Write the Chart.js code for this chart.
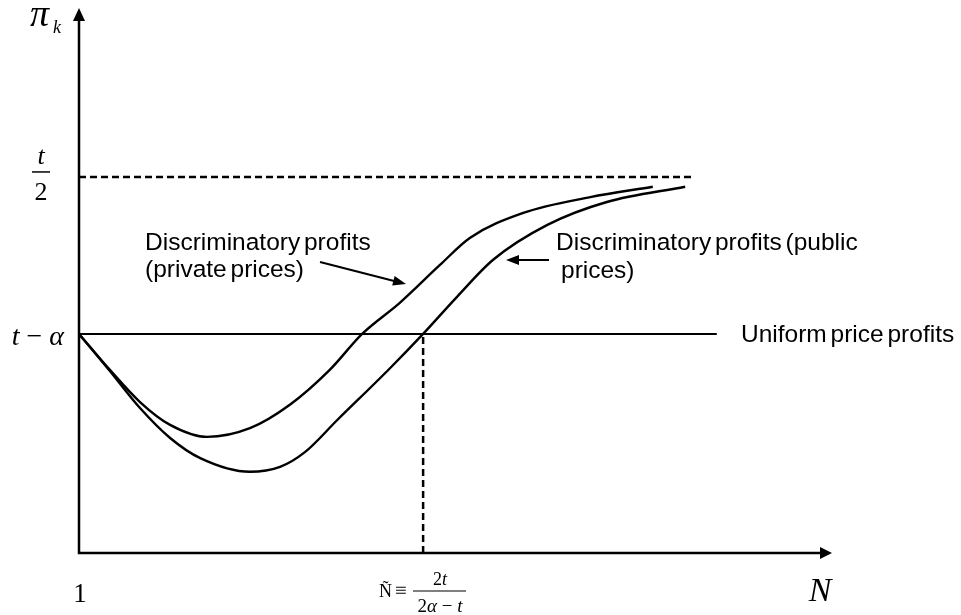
<!DOCTYPE html>
<html>
<head>
<meta charset="utf-8">
<script src="https://cdn.jsdelivr.net/npm/chart.js@4/dist/chart.umd.min.js"></script>
<style>
  html, body { margin: 0; padding: 0; background: #fff; }
  #wrap { width: 961px; height: 615px; }
</style>
</head>
<body>
<div id="wrap"><canvas id="c" width="961" height="615"></canvas></div>
<script>
// values, in chart units (x: 0..10, y: 0..10)
const privateN = [0, 0.41, 0.81, 1.21, 1.70, 2.27, 2.80, 3.33, 3.76, 4.26, 4.79, 5.19, 5.90, 6.79, 7.62];
const privateProfit = [4.02, 3.36, 2.77, 2.35, 2.13, 2.29, 2.72, 3.36, 4.02, 4.59, 5.28, 5.78, 6.24, 6.53, 6.72];
const publicN = [0, 0.41, 0.81, 1.21, 1.61, 2.27, 2.67, 3.00, 3.43, 4.13, 4.57, 5.02, 5.50, 6.22, 7.01, 8.05];
const publicProfit = [4.02, 3.34, 2.66, 2.11, 1.74, 1.49, 1.58, 1.85, 2.44, 3.39, 4.02, 4.70, 5.38, 6.02, 6.44, 6.72];
const uniformLevel = 4.02;   // t - alpha
const uniformEnd = 8.47;
const halfT = 6.90;          // t / 2
const halfTEnd = 8.18;
const nTilde = 4.57;

const pts = (xs, ys) => xs.map((x, i) => ({ x: x, y: ys[i] }));

const SANS = "'Liberation Sans', Arial, sans-serif";
const SERIF = "'Liberation Serif', 'Times New Roman', serif";

// draw runs of text with mixed italic / roman
function drawRuns(ctx, runs, x, y, size, align) {
    const fontOf = r => (r[1] === 'i' ? 'italic ' : '') + size + 'px ' + SERIF;
    let total = 0;
    runs.forEach(r => { ctx.font = fontOf(r); total += ctx.measureText(r[0]).width; });
    let cx = align === 'center' ? x - total / 2 : (align === 'right' ? x - total : x);
    ctx.textAlign = 'left';
    runs.forEach(r => {
        ctx.font = fontOf(r);
        ctx.fillText(r[0], cx, y);
        cx += ctx.measureText(r[0]).width;
    });
}

function arrowHead(ctx, x1, y1, x2, y2, len, half) {
    const a = Math.atan2(y2 - y1, x2 - x1);
    ctx.beginPath();
    ctx.moveTo(x2, y2);
    ctx.lineTo(x2 - len * Math.cos(a) + half * Math.sin(a), y2 - len * Math.sin(a) - half * Math.cos(a));
    ctx.lineTo(x2 - len * Math.cos(a) - half * Math.sin(a), y2 - len * Math.sin(a) + half * Math.cos(a));
    ctx.closePath();
    ctx.fill();
}

const decor = {
    id: 'decor',
    afterDatasetsDraw(chart) {
        const ctx = chart.ctx;
        const a = chart.chartArea;
        const ys = chart.scales.y;
        ctx.save();
        ctx.fillStyle = '#000';
        ctx.strokeStyle = '#000';

        // axes with arrows
        ctx.lineWidth = 2.5;
        ctx.lineCap = 'butt';
        ctx.lineJoin = 'miter';
        ctx.beginPath();
        ctx.moveTo(a.left, a.top + 10);
        ctx.lineTo(a.left, a.bottom);
        ctx.lineTo(a.right - 10, a.bottom);
        ctx.stroke();
        arrowHead(ctx, a.left, a.bottom, a.left, a.top, 13, 6);
        arrowHead(ctx, a.left, a.bottom, a.right, a.bottom, 12, 6);

        // annotation arrows
        ctx.lineWidth = 2;
        ctx.beginPath(); ctx.moveTo(320, 262); ctx.lineTo(398, 282); ctx.stroke();
        arrowHead(ctx, 320, 262, 406, 284, 13, 5);
        ctx.beginPath(); ctx.moveTo(549, 260); ctx.lineTo(514, 260); ctx.stroke();
        arrowHead(ctx, 549, 260, 506, 260, 13, 5);

        // sans labels
        ctx.font = '24.5px ' + SANS;
        ctx.textBaseline = 'middle';
        ctx.textAlign = 'left';
        if ('wordSpacing' in ctx) ctx.wordSpacing = '-3px';
        ctx.fillText('Discriminatory profits', 145, 243);
        ctx.fillText('(private prices)', 145, 270);
        ctx.fillText('Discriminatory profits (public', 556, 243);
        ctx.fillText('prices)', 561, 271);
        ctx.fillText('Uniform price profits', 741, ys.getPixelForValue(uniformLevel) + 1);
        if ('wordSpacing' in ctx) ctx.wordSpacing = '0px';

        // math labels
        ctx.textBaseline = 'alphabetic';
        drawRuns(ctx, [['\u03c0', 'i']], 30, 26, 38, 'left');
        drawRuns(ctx, [['k', 'i']], 53, 33, 18, 'left');

        const yh = ys.getPixelForValue(halfT);
        drawRuns(ctx, [['t', 'i']], 41, yh - 13, 26, 'center');
        ctx.lineWidth = 1.5;
        ctx.beginPath(); ctx.moveTo(32, yh - 5); ctx.lineTo(50, yh - 5); ctx.stroke();
        drawRuns(ctx, [['2', 'r']], 41, yh + 23, 26, 'center');

        const yu = ys.getPixelForValue(uniformLevel);
        drawRuns(ctx, [['t', 'i'], [' \u2212 ', 'r'], ['\u03b1', 'i']], 64, yu + 11, 28, 'right');

        drawRuns(ctx, [['1', 'r']], 80, 602, 27, 'center');
        drawRuns(ctx, [['N', 'i']], 820, 601, 34, 'center');

        // N tilde = 2t / (2 alpha - t)
        drawRuns(ctx, [['\u00d1', 'r']], 379, 597, 18, 'left');
        drawRuns(ctx, [['\u2261', 'r']], 395, 597, 21, 'left');
        drawRuns(ctx, [['2', 'r'], ['t', 'i']], 440, 585, 18, 'center');
        ctx.lineWidth = 1.2;
        ctx.beginPath(); ctx.moveTo(413, 591); ctx.lineTo(466, 591); ctx.stroke();
        drawRuns(ctx, [['2', 'r'], ['\u03b1', 'i'], [' \u2212 ', 'r'], ['t', 'i']], 440, 612, 19, 'center');

        ctx.restore();
    }
};

new Chart(document.getElementById('c'), {
    type: 'scatter',
    data: {
        datasets: [
            { data: pts(privateN, privateProfit), showLine: true, borderColor: '#000', borderWidth: 2.4, pointRadius: 0, cubicInterpolationMode: 'monotone' },
            { data: pts(publicN, publicProfit), showLine: true, borderColor: '#000', borderWidth: 2.4, pointRadius: 0, cubicInterpolationMode: 'monotone' },
            { data: [{ x: 0, y: uniformLevel }, { x: uniformEnd, y: uniformLevel }], showLine: true, borderColor: '#000', borderWidth: 2, pointRadius: 0 },
            { data: [{ x: 0, y: halfT }, { x: halfTEnd, y: halfT }], showLine: true, borderColor: '#000', borderWidth: 2.5, borderDash: [7, 4], pointRadius: 0 },
            { data: [{ x: nTilde, y: 0 }, { x: nTilde, y: uniformLevel }], showLine: true, borderColor: '#000', borderWidth: 2.5, borderDash: [7, 4], pointRadius: 0 }
        ]
    },
    options: {
        responsive: false,
        animation: false,
        clip: false,
        layout: { padding: { left: 79, right: 129, top: 8, bottom: 62 } },
        scales: {
            x: { type: 'linear', min: 0, max: 10, display: false },
            y: { type: 'linear', min: 0, max: 10, display: false }
        },
        plugins: { legend: { display: false }, tooltip: { enabled: false } }
    },
    plugins: [decor]
});
</script>
</body>
</html>
